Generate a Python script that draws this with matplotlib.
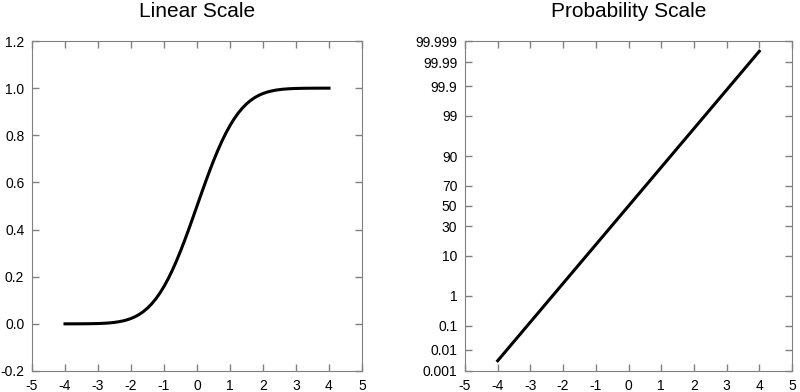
import math
import numpy as np
import matplotlib
matplotlib.use("Agg")
import matplotlib.pyplot as plt
from matplotlib.ticker import FixedLocator, FixedFormatter, NullLocator

plt.rcParams["font.family"] = ["Liberation Sans", "DejaVu Sans"]
plt.rcParams["axes.unicode_minus"] = False

# x values and the cumulative probability
x_vals = [-4.0, -3.75, -3.5, -3.25, -3.0, -2.875, -2.75, -2.625, -2.5, -2.375,
          -2.25, -2.125, -2.0, -1.875, -1.75, -1.625, -1.5, -1.375, -1.25,
          -1.125, -1.0, -0.875, -0.75, -0.625, -0.5, -0.375, -0.25, -0.125,
          0.0, 0.125, 0.25, 0.375, 0.5, 0.625, 0.75, 0.875, 1.0, 1.125, 1.25,
          1.375, 1.5, 1.625, 1.75, 1.875, 2.0, 2.125, 2.25, 2.375, 2.5, 2.625,
          2.75, 2.875, 3.0, 3.25, 3.5, 3.75, 4.0]
cdf_vals = [3.167e-5, 8.842e-5, 2.326e-4, 5.770e-4, 1.350e-3, 2.020e-3,
            2.980e-3, 4.335e-3, 6.210e-3, 8.775e-3, 1.222e-2, 1.6795e-2,
            2.275e-2, 3.0395e-2, 4.006e-2, 5.2085e-2, 6.681e-2, 8.457e-2,
            0.10565, 0.13030, 0.15866, 0.19079, 0.22663, 0.26599, 0.30854,
            0.35384, 0.40129, 0.45027, 0.5, 0.54973, 0.59871, 0.64616,
            0.69146, 0.73401, 0.77337, 0.80921, 0.84134, 0.86970, 0.89435,
            0.91543, 0.93319, 0.947915, 0.95994, 0.969605, 0.97725, 0.983205,
            0.98778, 0.991225, 0.99379, 0.995665, 0.99702, 0.99798, 0.998650,
            0.999423, 0.9997674, 0.9999116, 0.9999683]
pct_vals = [v * 100 for v in cdf_vals]

x_ticks = [-5, -4, -3, -2, -1, 0, 1, 2, 3, 4, 5]
lin_ticks = [-0.2, 0.0, 0.2, 0.4, 0.6, 0.8, 1.0, 1.2]
prob_ticks = [0.001, 0.01, 0.1, 1, 10, 30, 50, 70, 90, 99, 99.9, 99.99, 99.999]
prob_labels = ["0.001", "0.01", "0.1", "1", "10", "30", "50", "70", "90",
               "99", "99.9", "99.99", "99.999"]

_erf = np.vectorize(math.erf, otypes=[float])


def pct_to_z(p):
    p = np.clip(np.asarray(p, dtype=float) / 100.0, 1e-12, 1 - 1e-12)
    lo = np.full(p.shape, -10.0)
    hi = np.full(p.shape, 10.0)
    for _ in range(60):
        mid = 0.5 * (lo + hi)
        c = 0.5 * (1 + _erf(mid / math.sqrt(2)))
        lo = np.where(c < p, mid, lo)
        hi = np.where(c < p, hi, mid)
    return 0.5 * (lo + hi)


def z_to_pct(z):
    return 100 * 0.5 * (1 + _erf(np.asarray(z, dtype=float) / math.sqrt(2)))


fig = plt.figure(figsize=(8, 3.92), dpi=100)
ax1 = fig.add_axes([0.04, 0.0536, 0.4125, 0.8418])
ax2 = fig.add_axes([0.58125, 0.0536, 0.40875, 0.8418])

ax1.plot(x_vals, cdf_vals, color="black", lw=2.2, solid_joinstyle="round")
ax1.set_ylim(-0.2, 1.2)
ax1.set_yticks(lin_ticks)
ax1.set_yticklabels([f"{t:.1f}" for t in lin_ticks])
ax1.set_title("Linear Scale", fontsize=15, pad=17)

ax2.set_yscale("function", functions=(pct_to_z, z_to_pct))
ax2.plot(x_vals, pct_vals, color="black", lw=2.2)
ax2.set_ylim(0.001, 99.999)
ax2.yaxis.set_major_locator(FixedLocator(prob_ticks))
ax2.yaxis.set_major_formatter(FixedFormatter(prob_labels))
ax2.yaxis.set_minor_locator(NullLocator())
ax2.set_title("Probability Scale", fontsize=15, pad=17)

for ax in (ax1, ax2):
    ax.set_xlim(-5, 5)
    ax.set_xticks(x_ticks)
    ax.set_xticklabels([str(t) for t in x_ticks])
    ax.tick_params(direction="in", length=5, color="#808080", width=1,
                   top=True, right=True, labelsize=10, pad=5.5)
    for s in ax.spines.values():
        s.set_color("#808080")

fig.savefig("out.png", dpi=100)
